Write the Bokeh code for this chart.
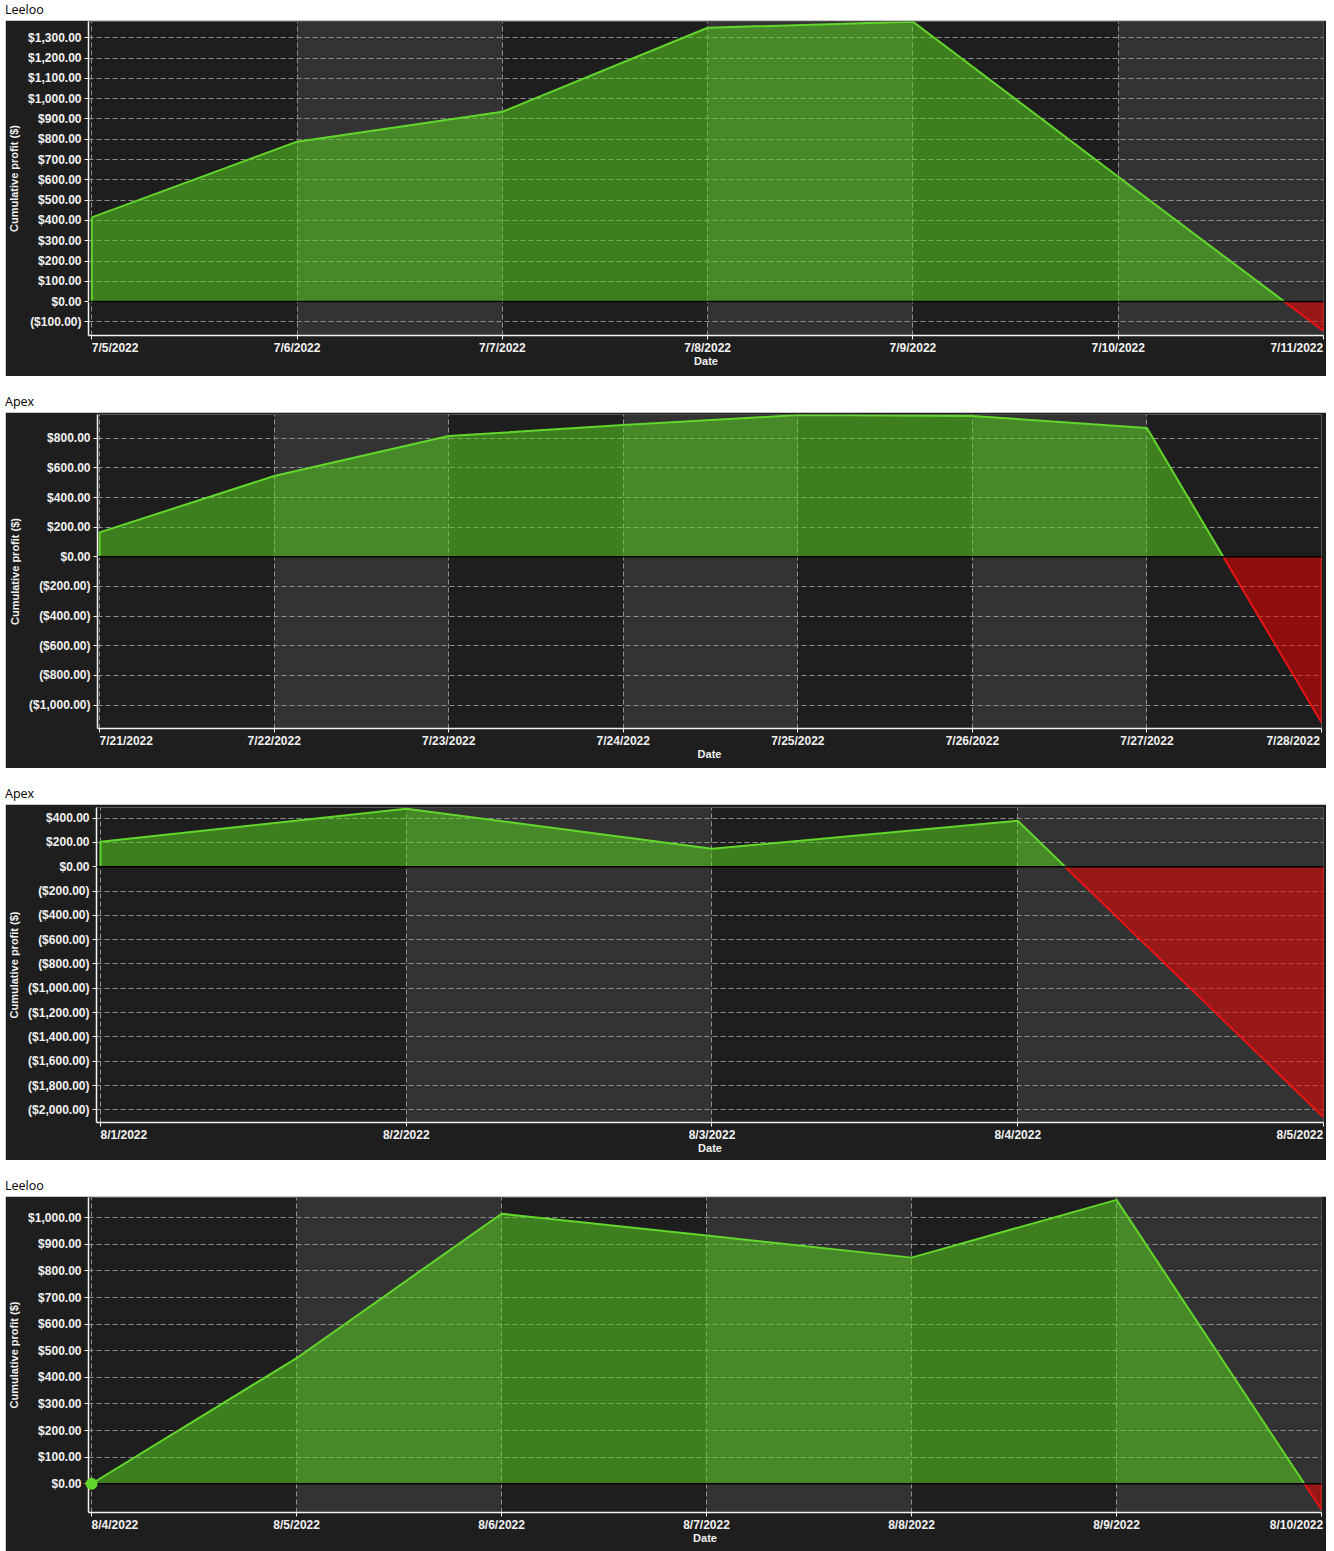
import pandas as pd
from bokeh.plotting import figure
from bokeh.models import FixedTicker, Span, Div, Spacer, Range1d
from bokeh.layouts import column
from bokeh.embed import file_html
from bokeh.resources import INLINE

# ---------------- data ----------------
p1_title = "Leeloo"
p1_dates = ["2022-07-05", "2022-07-06", "2022-07-07", "2022-07-08", "2022-07-09", "2022-07-10", "2022-07-11"]
p1_labels = ["7/5/2022", "7/6/2022", "7/7/2022", "7/8/2022", "7/9/2022", "7/10/2022", "7/11/2022"]
p1_values = [415, 788, 935, 1349, 1379, 615, -145]
p1_yticks = [-100, 0, 100, 200, 300, 400, 500, 600, 700, 800, 900, 1000, 1100, 1200, 1300]

p2_title = "Apex"
p2_dates = ["2022-07-21", "2022-07-22", "2022-07-23", "2022-07-24", "2022-07-25", "2022-07-26", "2022-07-27", "2022-07-28"]
p2_labels = ["7/21/2022", "7/22/2022", "7/23/2022", "7/24/2022", "7/25/2022", "7/26/2022", "7/27/2022", "7/28/2022"]
p2_values = [165, 545, 815, 889, 956, 950, 869, -1118]
p2_yticks = [-1000, -800, -600, -400, -200, 0, 200, 400, 600, 800]

p3_title = "Apex"
p3_dates = ["2022-08-01", "2022-08-02", "2022-08-03", "2022-08-04", "2022-08-05"]
p3_labels = ["8/1/2022", "8/2/2022", "8/3/2022", "8/4/2022", "8/5/2022"]
p3_values = [205, 477, 148, 378, -2062]
p3_yticks = [-2000, -1800, -1600, -1400, -1200, -1000, -800, -600, -400, -200, 0, 200, 400]

p4_title = "Leeloo"
p4_dates = ["2022-08-04", "2022-08-05", "2022-08-06", "2022-08-07", "2022-08-08", "2022-08-09", "2022-08-10"]
p4_labels = ["8/4/2022", "8/5/2022", "8/6/2022", "8/7/2022", "8/8/2022", "8/9/2022", "8/10/2022"]
p4_values = [0, 472, 1015, 933, 850, 1067, -97]
p4_yticks = [0, 100, 200, 300, 400, 500, 600, 700, 800, 900, 1000]
p4_marker_dates = ["2022-08-04"]
p4_marker_values = [0]

# ---------------- style ----------------
BG = "#1e1e1e"
BAND = "#333333"
GREEN_LINE = "#63d62b"
GREEN_FILL = "#5ad820"
RED_LINE = "#e81414"
RED_FILL = "#f50000"
FILL_ALPHA = 0.52
TXT = "#f2f2f2"
FONT = "Liberation Sans"
DAY = 86400000.0
FIG_W = 1321
NBSP = "\u00a0"


def to_ms(dates):
    return [pd.Timestamp(d).value / 1e6 for d in dates]


def money(v):
    s = "${:,.2f}".format(abs(v))
    return "(" + s + ")" if v < 0 else s


def pad_width(label):
    # in Liberation Sans a digit is two no-break spaces wide, a slash one
    return NBSP * sum(2 if ch.isdigit() else 1 for ch in label)


def build_areas(xs, ys):
    pieces = []
    cur_x, cur_y = [xs[0]], [0.0]
    sign = ys[0] >= 0
    for i in range(len(xs)):
        cur_x.append(xs[i]); cur_y.append(float(ys[i]))
        if i + 1 < len(xs):
            nsign = ys[i + 1] >= 0
            if nsign != sign:
                xc = xs[i] + (xs[i + 1] - xs[i]) * ys[i] / (ys[i] - ys[i + 1])
                cur_x.append(xc); cur_y.append(0.0)
                pieces.append((cur_x, cur_y, sign))
                cur_x, cur_y = [xc], [0.0]
                sign = nsign
    cur_x.append(xs[-1]); cur_y.append(0.0)
    pieces.append((cur_x, cur_y, sign))
    return pieces


def make_panel(dates, labels, values, yticks, yrange, xpad_days, height, borders, end_pad,
               marker_dates=None, marker_values=None):
    xs = to_ms(dates)
    left, right, top, bottom = borders
    p = figure(width=FIG_W, height=height, x_axis_type="datetime",
               x_range=Range1d(xs[0] - xpad_days * DAY, xs[-1]),
               y_range=Range1d(yrange[0], yrange[1]),
               output_backend="svg", toolbar_location=None,
               min_border_left=left, min_border_right=right,
               min_border_top=top, min_border_bottom=bottom,
               background_fill_color=BG, border_fill_color=BG)
    p.outline_line_color = None

    # alternating day bands
    bl = [xs[i] for i in range(len(xs) - 1) if i % 2 == 1]
    br = [xs[i + 1] for i in range(len(xs) - 1) if i % 2 == 1]
    p.quad(left=bl, right=br, bottom=yrange[0], top=yrange[1],
           fill_color=BAND, line_color=None, level="image")

    # areas split at zero
    for ax_, ay_, pos in build_areas(xs, values):
        fc = GREEN_FILL if pos else RED_FILL
        lc = GREEN_LINE if pos else RED_LINE
        p.patch(ax_, ay_, fill_color=fc, fill_alpha=FILL_ALPHA, line_color=None)
        p.line(ax_, ay_, line_color=lc, line_width=2)

    p.add_layout(Span(location=0, dimension="width", line_color="black", line_width=1.5))

    if marker_dates:
        p.scatter(to_ms(marker_dates), marker_values, size=11,
                  fill_color=GREEN_LINE, line_color=GREEN_LINE, level="overlay")

    # axes
    xa, ya = p.xaxis[0], p.yaxis[0]
    xa.ticker = FixedTicker(ticks=xs)
    overrides = {x: l for x, l in zip(xs, labels)}
    # first label starts at its tick; last label is kept inside the plot edge
    overrides[xs[0]] = pad_width(labels[0]) + labels[0]
    overrides[xs[-1]] = labels[-1] + NBSP * end_pad
    xa.major_label_overrides = overrides
    ya.ticker = FixedTicker(ticks=yticks)
    ya.major_label_overrides = {float(v): money(v) for v in yticks}
    xa.axis_label = "Date"
    ya.axis_label = "Cumulative profit ($)"
    for a in (xa, ya):
        a.axis_line_color = TXT
        a.axis_line_width = 1.5
        a.major_tick_line_color = TXT
        a.major_tick_out = 4
        a.major_tick_in = 0
        a.minor_tick_line_color = None
        a.major_label_text_color = TXT
        a.major_label_text_font = FONT
        a.major_label_text_font_size = "12px"
        a.major_label_text_font_style = "bold"
        a.axis_label_text_color = TXT
        a.axis_label_text_font = FONT
        a.axis_label_text_font_size = "11px"
        a.axis_label_text_font_style = "bold"
    xa.major_label_standoff = 1
    xa.axis_label_standoff = -3
    ya.major_label_standoff = 3
    ya.axis_label_standoff = 5

    for g in (p.xgrid[0], p.ygrid[0]):
        g.grid_line_color = "#909090"
        g.grid_line_dash = "5 3"
        g.grid_line_width = 1
    return p


def title_div(t):
    return Div(text=t, width=FIG_W, height=20, margin=0,
               styles={"font-family": "Open Sans", "font-size": "12.5px",
                       "color": "#000000", "line-height": "20px"})


f1 = make_panel(p1_dates, p1_labels, p1_values, p1_yticks, (-167, 1380), 0.016, 356, (83, 3, 1, 41), 1)
f2 = make_panel(p2_dates, p2_labels, p2_values, p2_yticks, (-1158, 960), 0.012, 356, (92, 5, 2, 40), 2)
f3 = make_panel(p3_dates, p3_labels, p3_values, p3_yticks, (-2104, 487), 0.013, 356, (91, 3, 3, 38), 1)
f4 = make_panel(p4_dates, p4_labels, p4_values, p4_yticks, (-108, 1076), 0.015, 355, (82, 5, 1, 39), 1,
                p4_marker_dates, p4_marker_values)

# each figure sits in its own block so that the frames are not aligned with each other
layout = column(
    column(title_div(p1_title), f1, margin=0),
    Spacer(height=16, margin=0),
    column(title_div(p2_title), f2, margin=0),
    Spacer(height=16, margin=0),
    column(title_div(p3_title), f3, margin=0),
    Spacer(height=16, margin=0),
    column(title_div(p4_title), f4, margin=0),
    margin=(0, 0, 0, 5),
)

open("out.html", "w").write(file_html(layout, INLINE))
